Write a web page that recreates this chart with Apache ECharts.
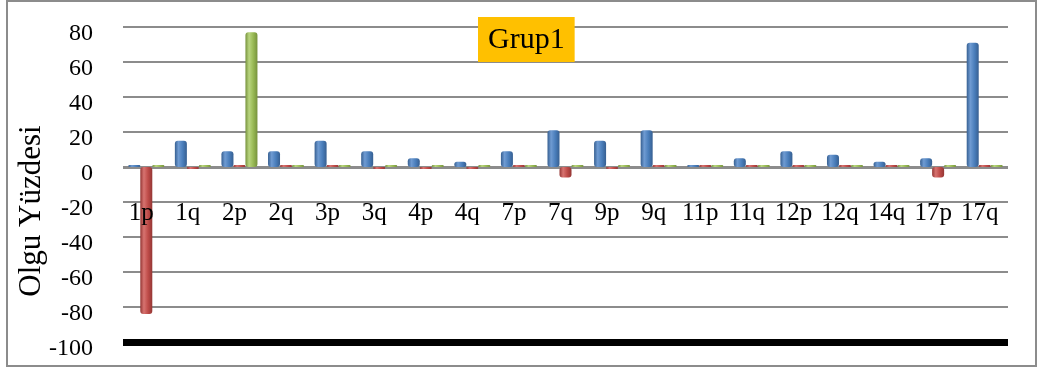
<!DOCTYPE html>
<html>
<head>
<meta charset="utf-8">
<script src="https://cdn.jsdelivr.net/npm/echarts@6/dist/echarts.min.js"></script>
<style>
  html, body { margin: 0; padding: 0; background: #fff; }
  #chart { width: 1043px; height: 371px; }
</style>
</head>
<body>
<div id="chart"></div>
<script>
// Chromosome arm categories
const categories = ['1p','1q','2p','2q','3p','3q','4p','4q','7p','7q','9p','9q','11p','11q','12p','12q','14q','17p','17q'];
// Case percentages per series
const seriesBlue  = [0, 15, 9, 9, 15, 9, 5, 3, 9, 21, 15, 21, 0, 5, 9, 7, 3, 5, 71];
const seriesRed   = [-84, -1, 0, 0, 0, -1, -1, -1, 0, -6, -1, 0, 0, 0, 0, 0, 0, -6, 0];
const seriesGreen = [0, 0, 77, 0, 0, 0, 0, 0, 0, 0, 0, 0, 0, 0, 0, 0, 0, 0, 0];
const yTicks = { min: -100, max: 80, step: 20 };

const serif = '"Liberation Serif", "Times New Roman", serif';

function cylinder(dark, mid, light) {
  return new echarts.graphic.LinearGradient(0, 0, 1, 0, [
    { offset: 0, color: dark },
    { offset: 0.3, color: light },
    { offset: 0.65, color: mid },
    { offset: 1, color: dark }
  ]);
}

function barSeries(name, data, fill, extra) {
  return Object.assign({
    name, type: 'bar', data,
    barWidth: 12,
    barGap: '0%',
    barMinHeight: 2,
    itemStyle: { color: fill, borderRadius: 3 }
  }, extra || {});
}

const chart = echarts.init(document.getElementById('chart'), null, { renderer: 'canvas' });
chart.setOption({
  animation: false,
  backgroundColor: '#fff',
  title: {
    text: 'Grup1',
    left: 478, top: 17,
    padding: [8, 10, 7, 10],
    backgroundColor: '#FFC000',
    textStyle: { fontFamily: serif, fontSize: 30, lineHeight: 30, fontWeight: 'normal', color: '#000' }
  },
  graphic: [
    { type: 'rect', shape: { x: 7, y: 1, width: 1029, height: 365 },
      style: { fill: 'none', stroke: '#8c8c8c', lineWidth: 2 }, z: -1 },
    { type: 'text', x: 32, y: 211, rotation: Math.PI / 2,
      style: { text: 'Olgu Yüzdesi', font: '31px ' + serif, fill: '#000',
               textAlign: 'center', textVerticalAlign: 'middle' } }
  ],
  grid: { left: 123, right: 35, top: 27, bottom: 29, containLabel: false, outerBoundsMode: 'none' },
  xAxis: {
    type: 'category', data: categories, position: 'bottom', z: 5,
    // thick floor line at the axis minimum; labels sit just under the zero plane
    axisLine: { onZero: false, lineStyle: { color: '#000', width: 7, cap: 'butt' } },
    axisTick: { show: false },
    axisLabel: { interval: 0, hideOverlap: false, fontFamily: serif, fontSize: 25, color: '#000',
                 margin: -141, padding: [0, 10, 0, 0] },
    splitLine: { show: false }
  },
  yAxis: {
    type: 'value', min: yTicks.min, max: yTicks.max, interval: yTicks.step,
    axisLine: { show: false }, axisTick: { show: false },
    axisLabel: { fontFamily: serif, fontSize: 24, color: '#000', margin: 30,
                 verticalAlign: 'top', lineHeight: 14 },
    splitLine: { lineStyle: { color: '#8c8c8c', width: 2 } }
  },
  series: [
    barSeries('Seri 1', seriesBlue, cylinder('#365f91', '#4a7ebb', '#6f9bd2'), {
      // zero plane
      markLine: {
        silent: true, symbol: 'none', label: { show: false }, z: 1,
        lineStyle: { color: '#8c8c8c', width: 3, type: 'solid' },
        data: [{ yAxis: 0 }]
      }
    }),
    barSeries('Seri 2', seriesRed, cylinder('#943634', '#be4b48', '#d77370')),
    barSeries('Seri 3', seriesGreen, cylinder('#76923c', '#98b954', '#b9d57f'))
  ]
});
</script>
</body>
</html>
